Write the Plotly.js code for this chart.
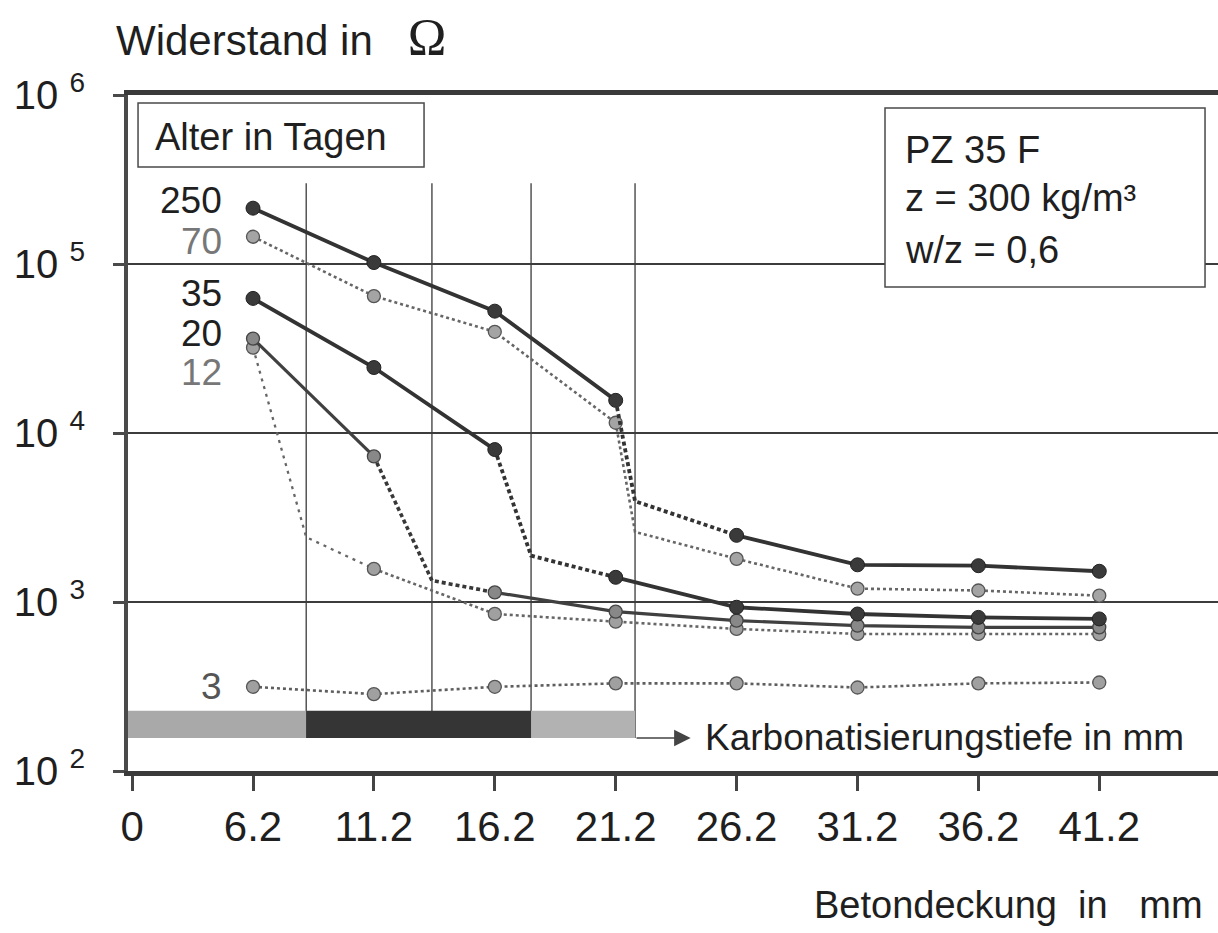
<!DOCTYPE html>
<html>
<head>
<meta charset="utf-8">
<script src="https://cdn.plot.ly/plotly-3.0.1.min.js"></script>
<style>
html,body{margin:0;padding:0;background:#fff;}
#chart{width:1218px;height:933px;}
</style>
</head>
<body>
<div id="chart"></div>
<script>
// ---------- data ----------
const tickMM = [0, 6.2, 11.2, 16.2, 21.2, 26.2, 31.2, 36.2, 41.2];
const tickText = ['0', '6.2', '11.2', '16.2', '21.2', '26.2', '31.2', '36.2', '41.2'];
const coverMM = [6.2, 11.2, 16.2, 21.2, 26.2, 31.2, 36.2, 41.2];
const ageDays = ['250', '70', '35', '20', '12', '3'];
const res250 = [214000, 102000, 52600, 15600, 2480, 1660, 1640, 1520];
const res70  = [145000, 64600, 39700, 11500, 1800, 1200, 1170, 1090];
const res35  = [62600, 24400, 7980, 1400, 931, 849, 811, 794];
const res20  = [36200, 7270, 1140, 877, 776, 725, 708, 708];
const res12  = [32000, 1570, 850, 765, 693, 647, 647, 646];
const res3   = [315, 285, 315, 330, 330, 312, 330, 334];
const carbDepthMM = [22, 22, 17.7, 13.6, 8.4, null];
const frontRes    = [3950, 2600, 1880, 1340, 2420, null];
const bandEdgesMM = [0, 8.4, 17.7, 22];
const yTickVals = [1e2, 1e3, 1e4, 1e5, 1e6];
const yTickText = ['10 <sup>2</sup>', '10 <sup>3</sup>', '10 <sup>4</sup>', '10 <sup>5</sup>', '10 <sup>6</sup>'];

// ---------- helpers ----------
const FONT = 'Liberation Sans, Arial, Helvetica, sans-serif';
const TXT = '#1f1f1f';
const XR = [-0.034, 8.982];
// equidistant (ordinal) axis of the original figure
function pos(mm) {
  for (let i = 1; i < tickMM.length; i++) {
    if (mm <= tickMM[i]) return (i - 1) + (mm - tickMM[i - 1]) / (tickMM[i] - tickMM[i - 1]);
  }
  const n = tickMM.length - 1;
  return n + (mm - tickMM[n]) / (tickMM[n] - tickMM[n - 1]);
}
function xp(mm) { return (pos(mm) - XR[0]) / (XR[1] - XR[0]); }
function yp(v) { return (Math.log10(v) - 2) / 4; }

const seriesVals = [res250, res70, res35, res20, res12, res3];

const dark = '#333333';
const styles = [
  { line: {color: dark, width: 3.8}, front: {color: dark, width: 3.8, dash: '4px,3px'},
    marker: {symbol: 'circle', size: 14, color: '#3a3a3a', line: {color: '#222', width: 1}}, label: '#1f1f1f', lshift: 8 },
  { line: {color: '#666', width: 2.6, dash: 'dot'}, front: {color: '#666', width: 2.6, dash: 'dot'},
    marker: {symbol: 'circle', size: 13, color: '#a4a4a4', line: {color: '#555', width: 1.3}}, label: '#777', lshift: -5 },
  { line: {color: dark, width: 3.8}, front: {color: dark, width: 3.8, dash: '4px,3px'},
    marker: {symbol: 'circle', size: 14, color: '#3a3a3a', line: {color: '#222', width: 1}}, label: '#1f1f1f', lshift: 5 },
  { line: {color: '#404040', width: 3.2}, front: {color: '#383838', width: 3.6, dash: '4px,3px'},
    marker: {symbol: 'circle', size: 13, color: '#888', line: {color: '#444', width: 1.3}}, label: '#1f1f1f', lshift: 5 },
  { line: {color: '#666', width: 2.6, dash: 'dot'}, front: {color: '#666', width: 2.3, dash: '3px,5px'},
    marker: {symbol: 'circle', size: 13, color: '#a0a0a0', line: {color: '#555', width: 1.3}}, label: '#777', lshift: -25 },
  { line: {color: '#5e5e5e', width: 2.6, dash: 'dot'}, front: null,
    marker: {symbol: 'circle', size: 13, color: '#a0a0a0', line: {color: '#555', width: 1.3}}, label: '#555', lshift: 0 }
];

const traces = [];
const drawOrder = [5, 4, 3, 1, 2, 0];
drawOrder.forEach(s => {
  const vals = seriesVals[s];
  const st = styles[s];
  const front = carbDepthMM[s];
  let sx = [], sy = [], fx = [], fy = [];
  if (front == null) {
    sx = coverMM.map(pos); sy = vals.slice();
  } else {
    const k = coverMM.findIndex(d => d > front);
    for (let i = 0; i < coverMM.length; i++) {
      if (i === k) { sx.push(null); sy.push(null); }
      sx.push(pos(coverMM[i])); sy.push(vals[i]);
    }
    fx = [pos(coverMM[k - 1]), pos(front), pos(coverMM[k])];
    fy = [vals[k - 1], frontRes[s], vals[k]];
  }
  traces.push({x: sx, y: sy, mode: 'lines', line: st.line, connectgaps: false, hoverinfo: 'skip', showlegend: false});
  if (fx.length) traces.push({x: fx, y: fy, mode: 'lines', line: st.front, hoverinfo: 'skip', showlegend: false});
  traces.push({x: coverMM.map(pos), y: vals, mode: 'markers', marker: st.marker, hoverinfo: 'skip', showlegend: false});
});

// ---------- shapes ----------
const bandLo = 157, bandHi = 227, vTop = 3.0e5;
const shapes = [];
// carbonation front grid lines
[8.4, 13.6, 17.7, 22].forEach(d => {
  shapes.push({type: 'line', xref: 'paper', yref: 'paper', x0: xp(d), x1: xp(d), y0: yp(bandLo), y1: yp(vTop),
    line: {color: '#3a3a3a', width: 1.3}, layer: 'below'});
});
// bands
const bandFill = ['#a9a9a9', '#353535', '#b2b2b2'];
for (let i = 0; i < 3; i++) {
  shapes.push({type: 'rect', xref: 'paper', yref: 'paper',
    x0: i === 0 ? 0 : xp(bandEdgesMM[i]), x1: xp(bandEdgesMM[i + 1]), y0: yp(bandLo), y1: yp(bandHi),
    fillcolor: bandFill[i], line: {width: 0}});
}
// boxes
shapes.push({type: 'rect', xref: 'paper', yref: 'paper', x0: 0.0092, x1: 0.2716, y0: 0.8935, y1: 0.9882,
  fillcolor: '#fff', line: {color: '#4a4a4a', width: 1.5}});
shapes.push({type: 'rect', xref: 'paper', yref: 'paper', x0: 0.6945, x1: 0.9881, y0: 0.716, y1: 0.9808,
  fillcolor: '#fff', line: {color: '#4a4a4a', width: 1.5}});

// ---------- annotations ----------
const ann = [];
ageDays.forEach((a, s) => {
  ann.push({x: pos(coverMM[0]), y: Math.log10(seriesVals[s][0]), xref: 'x', yref: 'y', text: a,
    showarrow: false, xanchor: 'right', yanchor: 'middle', xshift: -29, yshift: styles[s].lshift,
    font: {family: FONT, size: 37, color: styles[s].label}});
});
// arrow for carbonation depth
ann.push({x: pos(24.3), y: Math.log10(bandLo), xref: 'x', yref: 'y', axref: 'x', ayref: 'y',
  ax: pos(22), ay: Math.log10(bandLo), text: '', showarrow: true, arrowhead: 2, arrowsize: 2.2,
  arrowwidth: 1.5, arrowcolor: '#444', standoff: 0});
ann.push({x: pos(24.8), y: Math.log10(bandLo), xref: 'x', yref: 'y', text: 'Karbonatisierungstiefe in mm',
  showarrow: false, xanchor: 'left', yanchor: 'middle', font: {family: FONT, size: 37, color: TXT}});
// boxes text
ann.push({x: 0.0229, y: 0.9379, xref: 'paper', yref: 'paper', text: 'Alter in Tagen', showarrow: false,
  xanchor: 'left', yanchor: 'middle', font: {family: FONT, size: 38, color: TXT}});
const boxLines = ['PZ 35 F', 'z = 300 kg/m³', 'w/z = 0,6'];
const boxY = [0.9186, 0.8476, 0.7707];
boxLines.forEach((t, i) => ann.push({x: 0.711, y: boxY[i], xref: 'paper', yref: 'paper', text: t, showarrow: false,
  xanchor: 'left', yanchor: 'middle', font: {family: FONT, size: 38, color: TXT}}));
// axis titles
ann.push({x: -0.013, y: 1.085, xref: 'paper', yref: 'paper', xanchor: 'left', yanchor: 'middle', showarrow: false,
  text: 'Widerstand in\u00a0\u00a0\u00a0<span style="font-family:Liberation Serif, serif;font-size:52px">Ω</span>',
  font: {family: FONT, size: 42, color: TXT}});
ann.push({x: 0.6275, y: -0.198, xref: 'paper', yref: 'paper', xanchor: 'left', yanchor: 'middle', showarrow: false,
  text: 'Betondeckung\u00a0\u00a0in\u00a0\u00a0\u00a0mm', font: {family: FONT, size: 38, color: TXT}});

const layout = {
  width: 1218, height: 933,
  margin: {l: 128, r: 0, t: 95, b: 162},
  paper_bgcolor: '#fff', plot_bgcolor: '#fff',
  showlegend: false,
  font: {family: FONT, color: TXT},
  xaxis: {
    range: XR, tickmode: 'array', tickvals: tickMM.map(pos), ticktext: tickText,
    showgrid: false, zeroline: false, showline: true, linecolor: '#3a3a3a', linewidth: 5, mirror: true,
    ticks: 'outside', ticklen: 15, tickwidth: 3, tickcolor: '#444',
    tickfont: {family: FONT, size: 42, color: TXT}, ticklabelstandoff: 0, fixedrange: true
  },
  yaxis: {
    type: 'log', range: [2, 6], tickmode: 'array', tickvals: yTickVals, ticktext: yTickText,
    showgrid: true, gridcolor: '#3c3c3c', gridwidth: 1.3, zeroline: false,
    showline: true, linecolor: '#4a4a4a', linewidth: 4,
    ticks: 'outside', ticklen: 11, tickwidth: 3, tickcolor: '#4a4a4a',
    tickfont: {family: FONT, size: 40, color: TXT}, ticklabelstandoff: 20, fixedrange: true
  },
  shapes: shapes,
  annotations: ann
};

Plotly.newPlot('chart', traces, layout, {displayModeBar: false, staticPlot: true});
</script>
</body>
</html>
